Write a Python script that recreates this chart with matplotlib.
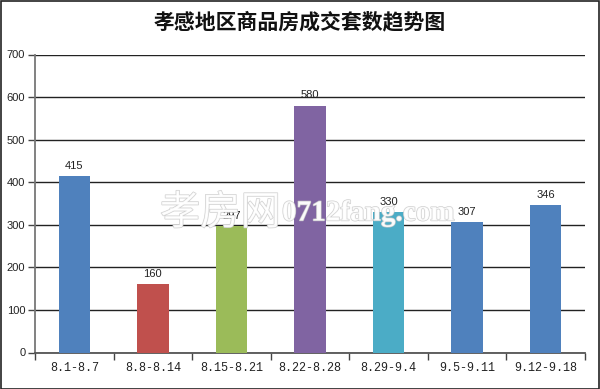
import matplotlib
matplotlib.use("Agg")
import matplotlib.pyplot as plt
import matplotlib.patheffects as pe
from matplotlib.patches import Rectangle

categories = ["8.1-8.7", "8.8-8.14", "8.15-8.21", "8.22-8.28", "8.29-9.4", "9.5-9.11", "9.12-9.18"]
values = [415, 160, 297, 580, 330, 307, 346]
colors = ["#4F81BD", "#C0504D", "#9BBB59", "#8064A2", "#4BACC6", "#4F81BD", "#4F81BD"]
yticks = [0, 100, 200, 300, 400, 500, 600, 700]
title = "孝感地区商品房成交套数趋势图"

W, H = 600, 389
fig = plt.figure(figsize=(W / 100, H / 100), dpi=100)
fig.patch.set_facecolor("white")
fig.patches.append(Rectangle((0.5 / W, 0.5 / H), 1 - 1.5 / W, 1 - 1.5 / H, transform=fig.transFigure,
                             fill=False, edgecolor="#222222", linewidth=1.2))

left, right, bottom, top = 35, 585, 352.5, 54.5
ax = fig.add_axes([left / W, 1 - bottom / H, (right - left) / W, (bottom - top) / H])
x = list(range(len(categories)))
ax.bar(x, values, width=0.4, color=colors, zorder=3)
ax.set_xlim(-0.5, len(categories) - 0.5)
ax.set_ylim(0, 700)
ax.set_yticks(yticks)
ax.set_yticklabels([str(v) for v in yticks], fontsize=8, family="Liberation Sans", color="#222222")
ax.yaxis.grid(True, color="#222222", linewidth=1.0, zorder=1)
ax.tick_params(axis="y", length=5, width=1, color="#444444", pad=2)
ax.set_xticks(x)
ax.set_xticklabels(categories, fontsize=8.5, family=["Liberation Mono", "DejaVu Sans Mono"], color="#222222")
ax.set_xticks([i - 0.5 for i in range(len(categories) + 1)], minor=True)
ax.tick_params(axis="x", which="major", length=0, pad=7)
ax.tick_params(axis="x", which="minor", length=5, width=1, color="#444444")
for s in ["top", "right"]:
    ax.spines[s].set_visible(False)
ax.spines["left"].set_color("#777777")
ax.spines["left"].set_linewidth(1.3)
ax.spines["bottom"].set_color("#555555")
ax.spines["bottom"].set_linewidth(1.3)

for xi, v in zip(x, values):
    ax.text(xi, v + 12, str(v), ha="center", va="bottom", fontsize=8,
            family="Liberation Sans", color="#222222", zorder=4)

fig.text(0.5, 1 - 22 / H, title, ha="center", va="center", fontsize=15, fontweight="bold",
         family=["Noto Sans CJK SC", "DejaVu Sans"], color="#111111")

wm = fig.text(160 / W, 1 - 213 / H, "孝房网", ha="left", va="center", fontsize=29,
              family=["Noto Sans CJK SC", "DejaVu Sans"], fontweight="light",
              color="white", alpha=0.85, zorder=10)
wm.set_path_effects([pe.withStroke(linewidth=1.0, foreground="#c8c8c8")])
wm2 = fig.text(282 / W, 1 - 213 / H, "0712fang.com", ha="left", va="center", fontsize=21,
               family="Liberation Serif", fontweight="bold", color="white", alpha=0.85, zorder=10)
wm2.set_path_effects([pe.withStroke(linewidth=1.0, foreground="#c8c8c8")])

fig.savefig("out.png", dpi=100)
